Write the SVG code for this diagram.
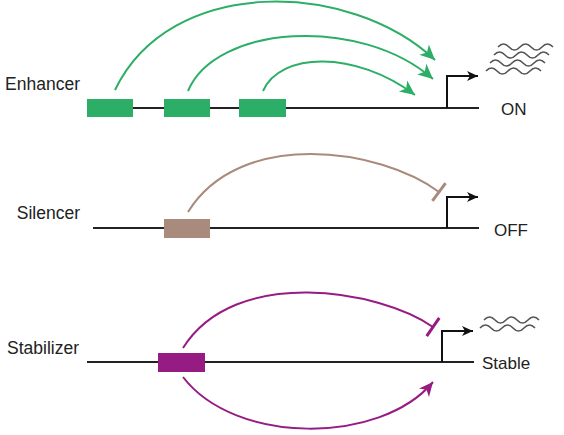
<svg xmlns="http://www.w3.org/2000/svg" width="564" height="435" viewBox="0 0 564 435">
<style>
.lbl{font-family:"Liberation Sans",Arial,sans-serif;font-size:17.5px;fill:#222}
.st{font-family:"Liberation Sans",Arial,sans-serif;font-size:17px;fill:#222}
.dna{stroke:#222;stroke-width:2;fill:none}
.prom{stroke:#111;stroke-width:2;fill:none;marker-end:url(#pa)}
.wave{stroke:#555;stroke-width:1.6;fill:none}
.g{stroke:#2dae66;stroke-width:2;fill:none;marker-end:url(#ga)}
.b{stroke:#a88b7c;stroke-width:2;fill:none;marker-end:url(#bt)}
.p{stroke:#961c83;stroke-width:2;fill:none}
</style>
<defs>
<marker id="ga" markerUnits="userSpaceOnUse" viewBox="-16 -8 17 16" refX="0" refY="0" markerWidth="17" markerHeight="16" orient="auto"><path d="M0,0 L-15,-7 L-11,0 L-15,7 Z" fill="#2dae66"/></marker>
<marker id="pga" markerUnits="userSpaceOnUse" viewBox="-16 -8 17 16" refX="0" refY="0" markerWidth="17" markerHeight="16" orient="auto"><path d="M0,0 L-14,-6.5 L-10,0 L-14,6.5 Z" fill="#961c83"/></marker>
<marker id="pa" markerUnits="userSpaceOnUse" viewBox="-12 -6 13 12" refX="0" refY="0" markerWidth="13" markerHeight="12" orient="auto"><path d="M0,0 L-11,-5 L-8,0 L-11,5 Z" fill="#111"/></marker>
<marker id="bt" markerUnits="userSpaceOnUse" viewBox="-3 -12 6 24" refX="0" refY="0" markerWidth="6" markerHeight="24" orient="auto"><line x1="0" y1="-11" x2="0" y2="11" stroke="#a88b7c" stroke-width="3"/></marker>
<marker id="pt" markerUnits="userSpaceOnUse" viewBox="-3 -12 6 24" refX="0" refY="0" markerWidth="6" markerHeight="24" orient="auto"><line x1="0" y1="-11" x2="0" y2="11" stroke="#961c83" stroke-width="3"/></marker>
<path id="w" d="M0,0 q5.5,-6 11,0 t11,0 t11,0 t11,0 t11,0"/>
</defs>

<g id="enhancer">
<text class="lbl" x="80" y="90" text-anchor="end">Enhancer</text>
<line class="dna" x1="87" y1="108" x2="479" y2="108"/>
<rect x="87" y="99" width="46" height="18" fill="#2dae66"/>
<rect x="164" y="99" width="46" height="18" fill="#2dae66"/>
<rect x="239" y="99" width="47" height="18" fill="#2dae66"/>
<path class="prom" d="M447,108 V76 H478"/>
<g class="wave">
<use href="#w" x="498" y="47"/>
<use href="#w" x="494" y="55"/>
<use href="#w" x="490" y="63"/>
<use href="#w" x="486" y="71"/>
</g>
<text class="st" x="501" y="115">ON</text>
</g>

<g id="silencer">
<text class="lbl" x="80" y="219" text-anchor="end">Silencer</text>
<line class="dna" x1="93" y1="228" x2="479" y2="228"/>
<rect x="164" y="219" width="46" height="19" fill="#a88b7c"/>
<path class="prom" d="M447,228 V197 H478"/>
<text class="st" x="494" y="236">OFF</text>
</g>

<g id="stabilizer">
<text class="lbl" x="79" y="354" text-anchor="end">Stabilizer</text>
<line class="dna" x1="87" y1="362" x2="474" y2="362"/>
<rect x="158" y="353" width="47" height="19" fill="#961c83"/>
<path class="prom" d="M442,362 V331 H473"/>
<g class="wave">
<use href="#w" x="484" y="320"/>
<use href="#w" x="480" y="328"/>
</g>
<text class="st" x="482" y="369">Stable</text>
</g>

<g id="connectors">
<path class="g" d="M115,90 C170,-25 350,-20 435,60"/>
<path class="g" d="M188,91 C215,25 360,15 433,79"/>
<path class="g" d="M263,91 C280,52 355,50 415,95"/>
<path class="b" d="M188,212 C240,128 380,148 439,192"/>
<path class="p" style="marker-end:url(#pt)" d="M183,348 C235,265 380,290 433,327"/>
<path class="p" style="marker-end:url(#pga)" d="M183,377 C235,445 380,445 433,382"/>
</g>
</svg>
